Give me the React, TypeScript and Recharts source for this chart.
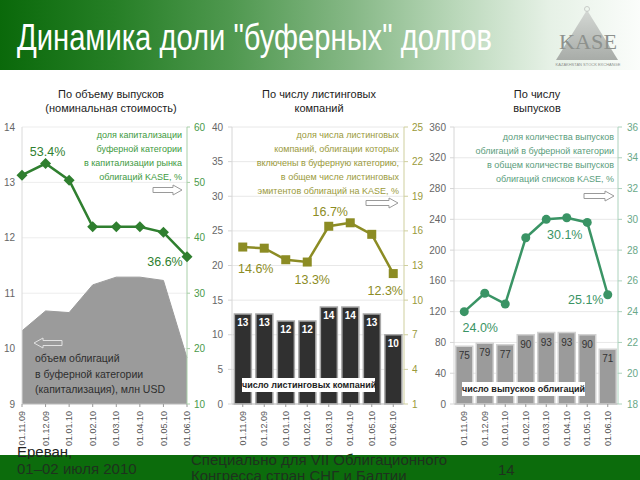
import React from "react";
import {
  Area,
  Bar,
  CartesianGrid,
  ComposedChart,
  LabelList,
  Line,
  XAxis,
  YAxis,
} from "recharts";

const dates = ["01.11.09", "01.12.09", "01.01.10", "01.02.10", "01.03.10", "01.04.10", "01.05.10", "01.06.10"];

// chart 1: volume (left) and share of capitalisation (right, %)
const capVolume = [10.32, 10.68, 10.65, 11.15, 11.29, 11.29, 11.23, 9.83];
const capShare = [51.3, 53.4, 50.4, 42.0, 42.0, 42.0, 41.0, 36.6];
const capLeftTicks = [9, 10, 11, 12, 13, 14];
const capRightTicks = [10, 20, 30, 40, 50, 60];

// chart 2: listed companies
const companyCount = [13, 13, 12, 12, 14, 14, 13, 10];
const companyShare = [14.6, 14.5, 13.5, 13.3, 16.4, 16.7, 15.7, 12.3];
const companyLeftTicks = [0, 5, 10, 15, 20, 25, 30, 35, 40];
const companyRightTicks = [1, 4, 7, 10, 13, 16, 19, 22, 25];

// chart 3: bond issues
const issueCount = [75, 79, 77, 90, 93, 93, 90, 71];
const issueShare = [24.0, 25.2, 24.5, 28.8, 30.0, 30.1, 29.8, 25.1];
const issueLeftTicks = [0, 40, 80, 120, 160, 200, 240, 280, 320, 360];
const issueRightTicks = [18, 20, 22, 24, 26, 28, 30, 32, 34, 36];

const capData = dates.map((date, i) => ({ date, volume: capVolume[i], share: capShare[i] }));
const companyData = dates.map((date, i) => ({ date, count: companyCount[i], share: companyShare[i] }));
const issueData = dates.map((date, i) => ({ date, count: issueCount[i], share: issueShare[i] }));

// where the % callouts sit relative to their point
const capLabelPos: Record<number, [number, number]> = { 1: [2, -11.5], 7: [-22, 5.5] };
const companyLabelPos: Record<number, [number, number]> = { 0: [13, 22], 3: [5, 18], 5: [-20, -10.5], 7: [-8, 17] };
const issueLabelPos: Record<number, [number, number]> = { 0: [16, 16], 5: [-2, 17], 7: [-22, 5] };

const FONT = "'Liberation Sans', Arial, sans-serif";

const DateTick = (props: any) => {
  const { x, y, payload } = props;
  return (
    <text
      transform={`translate(${x},${y + 2}) rotate(-90)`}
      textAnchor="end"
      dy="0.35em"
      fontSize={9}
      fill="#555"
      fontFamily={FONT}
    >
      {payload.value}
    </text>
  );
};

function makeDot(shape: "diamond" | "square" | "circle", color: string, labels: Record<number, [number, number]>) {
  return (props: any) => {
    const { cx, cy, index, payload } = props;
    if (cx == null || cy == null) return <g key={`n${index}`} />;
    let marker;
    if (shape === "diamond") {
      marker = <path d={`M${cx},${cy - 5.5}L${cx + 5.5},${cy}L${cx},${cy + 5.5}L${cx - 5.5},${cy}Z`} fill={color} />;
    } else if (shape === "square") {
      marker = <rect x={cx - 4.5} y={cy - 4.5} width={9} height={9} fill={color} />;
    } else {
      marker = <circle cx={cx} cy={cy} r={4.5} fill={color} />;
    }
    const pos = labels[index];
    return (
      <g key={`d${index}`}>
        {marker}
        {pos && (
          <text
            x={cx + pos[0]}
            y={cy + pos[1]}
            textAnchor="middle"
            dominantBaseline="central"
            fontSize={12.5}
            fill={color}
            fontFamily={FONT}
          >
            {payload.share.toFixed(1)}%
          </text>
        )}
      </g>
    );
  };
}

const Arrow = ({ x, y, w, left, fill = "#fff", stroke = "#9a9a9a" }: any) => {
  const h = 5;
  const s = 2.5;
  const head = 9;
  const d = left
    ? `M0,${h} L${head},0 L${head},${h - s} L${w},${h - s} L${w},${h + s} L${head},${h + s} L${head},${2 * h} Z`
    : `M${w},${h} L${w - head},0 L${w - head},${h - s} L0,${h - s} L0,${h + s} L${w - head},${h + s} L${w - head},${2 * h} Z`;
  return (
    <svg style={{ position: "absolute", left: x, top: y - h - 1 }} width={w + 2} height={2 * h + 2}>
      <path d={d} transform="translate(1,1)" fill={fill} stroke={stroke} strokeWidth={1} />
    </svg>
  );
};

const Note = ({ lines, right, top, color, size = 9, lh = 14 }: any) => (
  <div
    style={{
      position: "absolute",
      right,
      top,
      color,
      fontSize: size,
      lineHeight: `${lh}px`,
      textAlign: "right",
      whiteSpace: "nowrap",
      fontFamily: FONT,
    }}
  >
    {lines.map((l: string) => (
      <div key={l}>{l}</div>
    ))}
  </div>
);

const Title = ({ lines, center }: { lines: string[]; center: number }) => (
  <div
    style={{
      position: "absolute",
      left: center - 100,
      width: 200,
      top: 87,
      textAlign: "center",
      fontSize: 11,
      lineHeight: "14px",
      color: "#222",
      fontFamily: FONT,
    }}
  >
    {lines.map((l) => (
      <div key={l}>{l}</div>
    ))}
  </div>
);

const Box = ({ text, left, top, width }: { text: string; left: number; top: number; width: number }) => (
  <div
    style={{
      position: "absolute",
      left,
      top,
      width,
      height: 14,
      background: "#fff",
      fontSize: 9,
      fontWeight: "bold",
      lineHeight: "14px",
      textAlign: "center",
      color: "#222",
      whiteSpace: "nowrap",
      fontFamily: FONT,
    }}
  >
    {text}
  </div>
);

export default function App() {
  const capColor = "#2f7f2f";
  const companyColor = "#8c8c24";
  const issueColor = "#3a9465";

  return (
    <div
      style={{
        position: "absolute",
        left: 0,
        top: 0,
        width: 640,
        height: 480,
        overflow: "hidden",
        background: "#fff",
        fontFamily: FONT,
      }}
    >
      {/* header */}
      <div
        style={{
          position: "absolute",
          left: 0,
          top: 0,
          width: 640,
          height: 70,
          background:
            "linear-gradient(to right, #0a690a 0%, #267f26 18%, #4f984f 36%, #86b886 55%, #bcd9bc 72%, #e6f1e6 86%, #fbfdfb 100%)",
        }}
      />
      <svg style={{ position: "absolute", left: 0, top: 0 }} width={640} height={72}>
        <text
          x={17}
          y={50}
          fontSize={36}
          fill="#fff"
          textLength={475}
          lengthAdjust="spacingAndGlyphs"
          fontFamily="'Liberation Sans Narrow', 'Liberation Sans', Arial, sans-serif"
        >
          Динамика доли "буферных" долгов
        </text>
        <defs>
          <linearGradient id="tri" x1="0" y1="0" x2="0" y2="1">
            <stop offset="0%" stopColor="#d4d8d4" />
            <stop offset="100%" stopColor="#a8aca8" />
          </linearGradient>
        </defs>
        <path d="M587,10 L618,60 L556,60 Z" fill="url(#tri)" />
        <circle cx={587} cy={9} r={2.5} fill="none" stroke="#c8ccc8" strokeWidth={1} />
        <text x={588} y={49} textAnchor="middle" fontSize={21} fill="#8d918d" fontFamily="'Liberation Serif', serif" textLength={58} lengthAdjust="spacingAndGlyphs">
          KASE
        </text>
        <text x={588} y={66} textAnchor="middle" fontSize={4} fill="#8d918d" fontFamily={FONT}>
          KAZAKHSTAN STOCK EXCHANGE
        </text>
      </svg>

      <Title lines={["По объему выпусков", "(номинальная стоимость)"]} center={111} />
      <Title lines={["По числу листинговых", "компаний"]} center={319} />
      <Title lines={["По числу", "выпусков"]} center={537} />

      {/* chart 1 */}
      <div style={{ position: "absolute", left: 0, top: 110 }}>
        <ComposedChart width={214} height={344} data={capData} margin={{ top: 17, right: 0, bottom: 0, left: 0 }}>
          <CartesianGrid yAxisId="l" vertical={false} stroke="#ededed" />
          <XAxis
            dataKey="date"
            scale="point"
            height={50}
            interval={0}
            tick={<DateTick />}
            tickSize={3}
            axisLine={{ stroke: "#bdbdbd" }}
            tickLine={{ stroke: "#999" }}
          />
          <YAxis
            yAxisId="l"
            domain={[9, 14]}
            ticks={capLeftTicks}
            width={22}
            tickLine={false}
            tickSize={5}
            tickMargin={2}
            axisLine={{ stroke: "#dadada" }}
            tick={{ fontSize: 10, fill: "#666" }}
          />
          <YAxis
            yAxisId="r"
            orientation="right"
            domain={[10, 60]}
            ticks={capRightTicks}
            width={27}
            tickSize={3}
            tickMargin={4}
            axisLine={{ stroke: "#a8cfa8" }}
            tickLine={{ stroke: "#a8cfa8" }}
            tick={{ fontSize: 10, fill: "#4a9a4a" }}
          />
          <Area
            yAxisId="l"
            dataKey="volume"
            type="linear"
            fill="#9b9b9b"
            fillOpacity={1}
            stroke="#9b9b9b"
            isAnimationActive={false}
          />
          <Line
            yAxisId="r"
            dataKey="share"
            type="linear"
            stroke={capColor}
            strokeWidth={2.5}
            dot={makeDot("diamond", capColor, capLabelPos)}
            activeDot={false}
            isAnimationActive={false}
          />
        </ComposedChart>
      </div>

      {/* chart 2 */}
      <div style={{ position: "absolute", left: 210, top: 110 }}>
        <ComposedChart
          width={215}
          height={344}
          data={companyData}
          barCategoryGap="11%"
          margin={{ top: 17, right: 0, bottom: 0, left: 0 }}
        >
          <CartesianGrid yAxisId="l" vertical={false} stroke="#e8e8e8" />
          <XAxis
            dataKey="date"
            height={50}
            interval={0}
            tick={<DateTick />}
            tickSize={3}
            axisLine={{ stroke: "#bdbdbd" }}
            tickLine={{ stroke: "#999" }}
          />
          <YAxis
            yAxisId="l"
            domain={[0, 40]}
            ticks={companyLeftTicks}
            width={22}
            tickSize={4}
            tickMargin={5}
            axisLine={{ stroke: "#d6d6d6" }}
            tickLine={{ stroke: "#d6d6d6" }}
            tick={{ fontSize: 10, fill: "#666" }}
          />
          <YAxis
            yAxisId="r"
            orientation="right"
            domain={[1, 25]}
            ticks={companyRightTicks}
            width={21}
            tickSize={4}
            tickMargin={4}
            axisLine={{ stroke: "#cfcf9e" }}
            tickLine={{ stroke: "#cfcf9e" }}
            tick={{ fontSize: 10, fill: "#9a9a3a" }}
          />
          <Bar yAxisId="l" dataKey="count" fill="#303030" stroke="#a8a8a8" strokeWidth={1.5} isAnimationActive={false}>
            <LabelList dataKey="count" position="insideTop" offset={5} fill="#fff" fontSize={10} fontWeight="bold" />
          </Bar>
          <Line
            yAxisId="r"
            dataKey="share"
            type="linear"
            stroke={companyColor}
            strokeWidth={2.5}
            dot={makeDot("square", companyColor, companyLabelPos)}
            activeDot={false}
            isAnimationActive={false}
          />
        </ComposedChart>
      </div>

      {/* chart 3 */}
      <div style={{ position: "absolute", left: 425, top: 110 }}>
        <ComposedChart
          width={215}
          height={344}
          data={issueData}
          barCategoryGap="8.5%"
          margin={{ top: 17, right: 0, bottom: 0, left: 0 }}
        >
          <CartesianGrid yAxisId="l" vertical={false} stroke="#e8e8e8" />
          <XAxis
            dataKey="date"
            height={50}
            interval={0}
            tick={<DateTick />}
            tickSize={3}
            axisLine={{ stroke: "#bdbdbd" }}
            tickLine={{ stroke: "#999" }}
          />
          <YAxis
            yAxisId="l"
            domain={[0, 360]}
            ticks={issueLeftTicks}
            width={29}
            tickSize={4}
            tickMargin={4}
            axisLine={{ stroke: "#d6d6d6" }}
            tickLine={{ stroke: "#d6d6d6" }}
            tick={{ fontSize: 10, fill: "#666" }}
          />
          <YAxis
            yAxisId="r"
            orientation="right"
            domain={[18, 36]}
            ticks={issueRightTicks}
            width={22}
            tickSize={4}
            tickMargin={5}
            axisLine={{ stroke: "#acd2bd" }}
            tickLine={{ stroke: "#acd2bd" }}
            tick={{ fontSize: 10, fill: "#6aa888" }}
          />
          <Bar yAxisId="l" dataKey="count" fill="#9b9b9b" stroke="#d2d2d2" strokeWidth={1.5} isAnimationActive={false}>
            <LabelList dataKey="count" position="insideTop" offset={6} fill="#333" fontSize={10} />
          </Bar>
          <Line
            yAxisId="r"
            dataKey="share"
            type="linear"
            stroke={issueColor}
            strokeWidth={2.5}
            dot={makeDot("circle", issueColor, issueLabelPos)}
            activeDot={false}
            isAnimationActive={false}
          />
        </ComposedChart>
      </div>

      {/* annotations */}
      <Note
        lines={["доля капитализации", "буферной категории", "в капитализации рынка", "облигаций KASE, %"]}
        right={640 - 182}
        top={128}
        color="#3e9a3e"
      />
      <Arrow x={152} y={190} w={29} />
      <Arrow x={33} y={343} w={28} left fill="none" stroke="#e2e2e2" />
      <div
        style={{
          position: "absolute",
          left: 35,
          top: 351,
          fontSize: 10.5,
          lineHeight: "15.5px",
          color: "#2e2e2e",
          whiteSpace: "nowrap",
        }}
      >
        <div>объем облигаций</div>
        <div>в буферной категории</div>
        <div>(капитализация), млн USD</div>
      </div>

      <Note
        lines={[
          "доля числа листинговых",
          "компаний, облигации которых",
          "включены в буферную категорию,",
          "в общем числе листинговых",
          "эмитентов облигаций на KASE, %",
        ]}
        right={640 - 399}
        top={128}
        color="#9a9a3a"
      />
      <Arrow x={365} y={203} w={32} />
      <Box text="число листинговых компаний" left={242} top={378} width={133} />

      <Note
        lines={[
          "доля количества выпусков",
          "облигаций в буферной категории",
          "в общем количестве выпусков",
          "облигаций списков KASE, %",
        ]}
        right={640 - 614}
        top={130}
        color="#5a9d7c"
      />
      <Arrow x={583} y={196} w={30} />
      <Box text="число выпусков облигаций" left={462} top={382} width={123} />

      {/* footer */}
      <div style={{ position: "absolute", left: 0, top: 455, width: 640, height: 25, background: "#0c6c0c" }} />
      <div style={{ position: "absolute", left: 17, top: 447, height: 12, width: 80, overflow: "hidden" }}>
        <div style={{ position: "absolute", left: 0, top: -3, fontSize: 15, lineHeight: "15px", color: "#222", whiteSpace: "nowrap" }}>
          Ереван,
        </div>
      </div>
      <div style={{ position: "absolute", left: 17, top: 461, fontSize: 15, lineHeight: "15px", color: "#1e321e", whiteSpace: "nowrap" }}>
        01–02 июля 2010
      </div>
      <div style={{ position: "absolute", left: 191, top: 452, fontSize: 15, lineHeight: "16px", color: "#1e321e", whiteSpace: "nowrap" }}>
        <div>Специально для VII Облигационного</div>
        <div>Конгресса стран СНГ и Балтии</div>
      </div>
      <div style={{ position: "absolute", left: 498, top: 462, fontSize: 15, lineHeight: "15px", color: "#1e321e" }}>
        14
      </div>
    </div>
  );
}
